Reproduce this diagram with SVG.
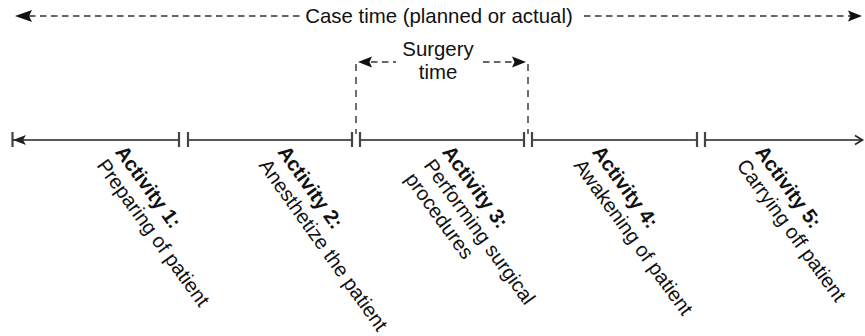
<svg xmlns="http://www.w3.org/2000/svg" width="865" height="336" viewBox="0 0 865 336">
<style>
text{font-family:"Liberation Sans",Arial,sans-serif;fill:#111;}
.lbl{font-size:20.4px;}
.act{font-size:20.2px;}
.b{font-weight:bold;}
.line{stroke:#222;stroke-width:1.6;fill:none;}
.bar{stroke:#444;stroke-width:2.2;fill:none;}
.dash{stroke:#333;stroke-width:1.7;fill:none;stroke-dasharray:6.5,4.5;}
.vdash{stroke:#333;stroke-width:1.4;fill:none;stroke-dasharray:7,6;}
</style>
<defs>
<path id="fa" d="M0,0 L-17,-6 L-14,0 L-17,6 Z" fill="#111"/>
<path id="fs" d="M0,0 L-14,-5.5 L-11.5,0 L-14,5.5 Z" fill="#111"/>
</defs>
<g id="connectors">
<line class="bar" x1="12.5" y1="132" x2="12.5" y2="147"/>
<path class="line" d="M13,140 H179 M188,140 H352 M360,140 H524 M532,140 H697 M705,140 H862"/>
<path d="M13,140 L26,135 L23,140 L26,145 Z" fill="#222"/>
<path class="line" d="M855,135.5 L862.5,140 L855,144.5"/>
<g class="bar">
<line x1="179" y1="132" x2="179" y2="147"/><line x1="188" y1="132" x2="188" y2="147"/>
<line x1="352" y1="132" x2="352" y2="147"/><line x1="360" y1="132" x2="360" y2="147"/>
<line x1="524" y1="132" x2="524" y2="147"/><line x1="532" y1="132" x2="532" y2="147"/>
<line x1="697" y1="132" x2="697" y2="147"/><line x1="705" y1="132" x2="705" y2="147"/>
</g>
<line class="dash" x1="29" y1="16" x2="300" y2="16"/>
<line class="dash" x1="584" y1="16" x2="851" y2="16"/>
<use href="#fa" transform="translate(15,16) rotate(180)"/>
<use href="#fs" transform="translate(862,16)"/>
<line class="vdash" x1="356" y1="64" x2="356" y2="134"/>
<line class="vdash" x1="528" y1="64" x2="528" y2="134"/>
<line class="dash" x1="371" y1="62" x2="396" y2="62"/>
<line class="dash" x1="483" y1="62" x2="514" y2="62"/>
<use href="#fs" transform="translate(358,62) rotate(180)"/>
<use href="#fs" transform="translate(526,62)"/>
</g>
<g id="case-time">
<text class="lbl" x="439" y="23" text-anchor="middle">Case time (planned or actual)</text>
</g>
<g id="surgery-time">
<text class="lbl" x="438" y="56" text-anchor="middle">Surgery</text>
<text class="lbl" x="438" y="79" text-anchor="middle">time</text>
</g>
<g id="activity1" transform="translate(114.5,152) rotate(54)">
<text class="act b" x="0" y="0">Activity 1:</text>
<text class="act" x="0" y="23">Preparing of patient</text>
</g>
<g id="activity2" transform="translate(277,152) rotate(54.5)">
<text class="act b" x="0" y="0">Activity 2:</text>
<text class="act" x="0" y="23">Anesthetize the patient</text>
</g>
<g id="activity3" transform="translate(441.5,152) rotate(54)">
<text class="act b" x="0" y="0">Activity 3:</text>
<text class="act" x="0" y="23">Performing surgical</text>
<text class="act" x="0" y="46">procedures</text>
</g>
<g id="activity4" transform="translate(591.5,152) rotate(54)">
<text class="act b" x="0" y="0">Activity 4:</text>
<text class="act" x="0" y="23">Awakening of patient</text>
</g>
<g id="activity5" transform="translate(754.5,152) rotate(54)">
<text class="act b" x="0" y="0">Activity 5:</text>
<text class="act" x="0" y="23">Carrying off patient</text>
</g>
</svg>
